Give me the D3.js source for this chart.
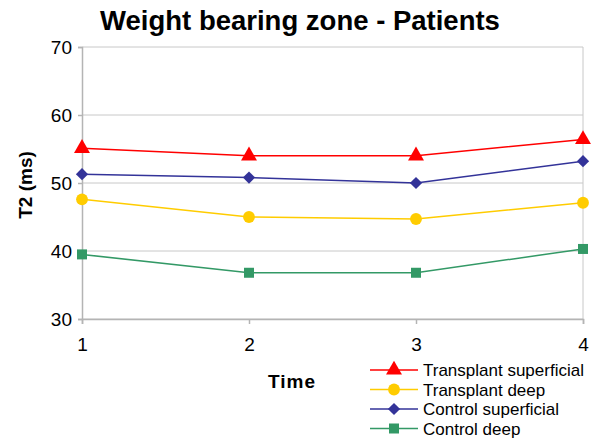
<!DOCTYPE html>
<html>
<head>
<meta charset="utf-8">
<script src="https://cdn.jsdelivr.net/npm/d3@7"></script>
<style>
  body { margin: 0; background: #fff; }
  text { font-family: "Liberation Sans", Arial, sans-serif; }
</style>
</head>
<body>
<svg id="chart" width="591" height="439"></svg>
<script>
// data
const times = [1, 2, 3, 4];
const transplantSuperficial = [55.1, 54.0, 54.0, 56.4];
const transplantDeep = [47.6, 45.0, 44.7, 47.1];
const controlSuperficial = [51.3, 50.8, 50.0, 53.2];
const controlDeep = [39.5, 36.8, 36.8, 40.3];
const yTicks = [30, 40, 50, 60, 70];

const series = [
  {name: "Transplant superficial", values: transplantSuperficial, color: "#ff0000", shape: d3.symbolTriangle, size: 110, rot: 0},
  {name: "Transplant deep", values: transplantDeep, color: "#ffcc00", shape: d3.symbolCircle, size: 110, rot: 0},
  {name: "Control superficial", values: controlSuperficial, color: "#333399", shape: d3.symbolSquare, size: 75, rot: 45},
  {name: "Control deep", values: controlDeep, color: "#339966", shape: d3.symbolSquare, size: 100, rot: 0}
];

const svg = d3.select("#chart");
const plotLeft = 82, plotRight = 583, plotTop = 47, plotBottom = 319;

const x = d3.scaleLinear().domain([1, 4]).range([plotLeft, plotRight]);
const y = d3.scaleLinear().domain([30, 70]).range([plotBottom, plotTop]);

// title
svg.append("text")
  .attr("x", 300).attr("y", 30)
  .attr("text-anchor", "middle")
  .style("font-size", "27.5px").style("font-weight", "bold")
  .text("Weight bearing zone - Patients");

// gridlines
svg.append("g").selectAll("line")
  .data(yTicks)
  .join("line")
  .attr("x1", plotLeft).attr("x2", plotRight)
  .attr("y1", d => y(d)).attr("y2", d => y(d))
  .attr("stroke", "#c8c8c8").attr("stroke-width", 1);

// right border
svg.append("line")
  .attr("x1", plotRight).attr("x2", plotRight).attr("y1", plotTop).attr("y2", plotBottom)
  .attr("stroke", "#c8c8c8");

// y axis
const yAxis = svg.append("g")
  .attr("transform", `translate(${plotLeft},0)`)
  .call(d3.axisLeft(y).tickValues(yTicks).tickSize(4).tickPadding(6));
yAxis.selectAll("line, path").attr("stroke", "#b4b4b4").attr("stroke-width", 1.5);
yAxis.selectAll("text").style("font-size", "19px").attr("fill", "#000")
  .style("font-family", "'Liberation Sans', Arial, sans-serif");

// x axis
const xAxis = svg.append("g")
  .attr("transform", `translate(0,${plotBottom})`)
  .call(d3.axisBottom(x).tickValues(times).tickFormat(d3.format("d")).tickSize(5).tickPadding(14));
xAxis.selectAll("line, path").attr("stroke", "#b4b4b4").attr("stroke-width", 1.5);
xAxis.selectAll("text").style("font-size", "19px").attr("fill", "#000")
  .style("font-family", "'Liberation Sans', Arial, sans-serif");

// axis titles
svg.append("text")
  .attr("x", 292).attr("y", 388)
  .attr("text-anchor", "middle")
  .style("font-size", "19px").style("font-weight", "bold")
  .style("letter-spacing", "1px")
  .text("Time");

svg.append("text")
  .attr("transform", "translate(32,185) rotate(-90)")
  .attr("text-anchor", "middle")
  .style("font-size", "19px").style("font-weight", "bold")
  .text("T2 (ms)");

// series
const line = d3.line().x((d, i) => x(times[i])).y(d => y(d));

series.forEach(s => {
  svg.append("path")
    .datum(s.values)
    .attr("d", line)
    .attr("fill", "none")
    .attr("stroke", s.color)
    .attr("stroke-width", 1.5);
  svg.append("g").selectAll("path")
    .data(s.values)
    .join("path")
    .attr("transform", (d, i) => `translate(${x(times[i])},${y(d)}) rotate(${s.rot})`)
    .attr("d", d3.symbol().type(s.shape).size(s.size))
    .attr("fill", s.color);
});

// legend
const legend = svg.append("g").attr("transform", "translate(370,370)");
const rows = legend.selectAll("g")
  .data(series)
  .join("g")
  .attr("transform", (d, i) => `translate(0,${i * 19.5})`);
rows.append("line")
  .attr("x1", 0).attr("x2", 48).attr("y1", 0).attr("y2", 0)
  .attr("stroke", d => d.color).attr("stroke-width", 1.5);
rows.append("path")
  .attr("transform", d => `translate(24,0) rotate(${d.rot})`)
  .attr("d", d => d3.symbol().type(d.shape).size(d.size)())
  .attr("fill", d => d.color);
rows.append("text")
  .attr("x", 53).attr("y", 6)
  .style("font-size", "17px")
  .text(d => d.name);
</script>
</body>
</html>
